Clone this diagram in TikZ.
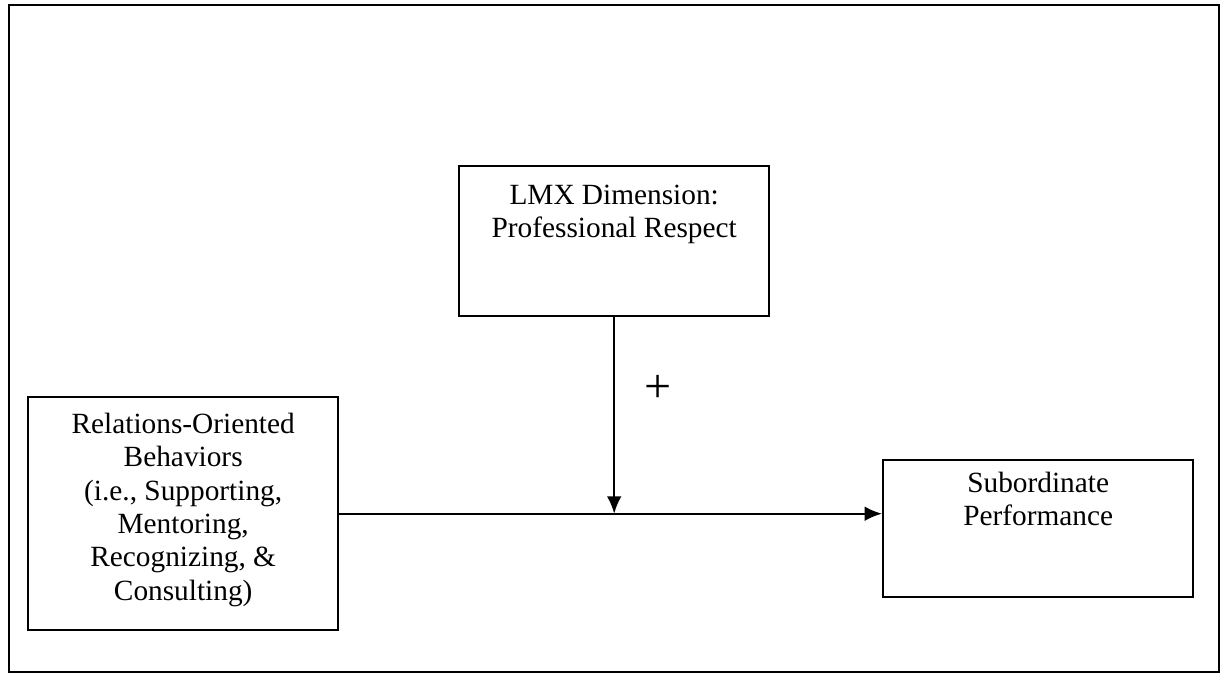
\documentclass[tikz,border=0pt]{standalone}
\usepackage{fontspec}
\setmainfont{Liberation Serif}
\usetikzlibrary{arrows.meta}
\tikzset{>={Latex[length=13pt,width=11pt]}}
\tikzset{box/.style={draw, line width=1.8pt, inner sep=0pt, anchor=north west, font=\fontsize{22}{25}\selectfont}}
\newcommand{\boxtext}[3]{\parbox[c][#1][t]{232.5pt}{\centering\vspace*{#2}#3}}

\begin{document}
\begin{tikzpicture}[x=0.75pt,y=-0.75pt]
	\useasboundingbox (0,0) rectangle (1220,673);
	\draw[line width=1.8pt] (9,5) rectangle (1219,672);

	\node[box] (lmx) at (458,165) {\boxtext{112.5pt}{14pt}{LMX Dimension:\\Professional Respect}};
	\node[box] (rel) at (27,396) {\boxtext{174.75pt}{12pt}{Relations-Oriented\\Behaviors\\(i.e., Supporting,\\Mentoring,\\Recognizing, \&\\Consulting)}};
	\node[box] (perf) at (882,459) {\boxtext{102.75pt}{9pt}{Subordinate\\Performance}};

	\node (plus) at (658,389) {\fontsize{36}{36}\selectfont +};

	\coordinate (meet) at (lmx.south |- rel.east);
	\draw[line width=1.6pt, ->] (rel.east) -- (rel.east -| perf.west);
	\draw[line width=1.6pt, ->] (lmx.south) -- (meet);
\end{tikzpicture}
\end{document}
